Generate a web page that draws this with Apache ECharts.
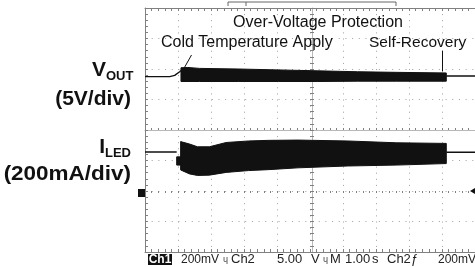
<!DOCTYPE html>
<html><head><meta charset="utf-8">
<script src="https://cdn.jsdelivr.net/npm/echarts@6/dist/echarts.min.js"></script>
<style>html,body{margin:0;padding:0;background:#fff}#c{width:475px;height:267px}</style>
</head><body><div id="c"></div>
<script>
// Horizontal: time in seconds (1.00 s/div, 10 divisions). Vertical: graticule divisions (-4..4).
const timeMin = 0, timeMax = 10, divMin = -4, divMax = 4;

// V_OUT trace (5 V/div)
const voutBefore = [[0, 1.75], [0.75, 1.75], [0.9, 1.79], [1.05, 1.91], [1.09, 1.95]];
const voutBandT   = [1.09, 1.3, 1.65, 2.84, 4.04, 5.24, 6.44, 7.63, 9.13];
const voutBandTop = [2.04, 2.05, 2.02, 2.0, 1.97, 1.94, 1.91, 1.89, 1.87];
const voutBandBot = [1.59, 1.59, 1.59, 1.59, 1.59, 1.59, 1.6, 1.6, 1.6];
const voutAfter  = [[9.13, 1.77], [10, 1.77]];

// I_LED trace (200 mA/div)
const iledBefore = [[0, -0.72], [0.96, -0.72]];
const iledBlipT   = [0.96, 1.08];
const iledBlipTop = [-0.88, -0.88];
const iledBlipBot = [-1.15, -1.15];
const iledBandT   = [1.08, 1.35, 1.59, 1.95, 2.46, 3.14, 3.74, 4.64, 6.14, 7.63, 9.13];
const iledBandTop = [-0.38, -0.46, -0.55, -0.55, -0.41, -0.36, -0.34, -0.33, -0.36, -0.42, -0.44];
const iledBandBot = [-1.31, -1.44, -1.49, -1.48, -1.39, -1.33, -1.3, -1.24, -1.18, -1.15, -1.1];
const iledAfter  = [[9.13, -0.73], [10, -0.73]];

// annotation arrows (data space)
const arrowCold = [[1.41, 2.46], [1.17, 2.0]];
const arrowRecovery = [[9.01, 2.6], [9.01, 1.92]];

const GL = 145, GT = 8, GW = 334, GH = 244;
const dotH = [1, GW / 50 - 1];   // dots every 1/5 div horizontally
const dotV = [1, GH / 40 - 1];   // dots every 1/5 div vertically
const gridC = '#a0a0a0', borderC = '#808080', ink = '#111';

function band(ts, tops, bots) {
  return {
    type: 'custom', xAxisIndex: 0, yAxisIndex: 0, silent: true, z: 5,
    data: [[ts[0], tops[0]]],
    renderItem: function (params, api) {
      const pts = [];
      for (let i = 0; i < ts.length; i++) pts.push(api.coord([ts[i], tops[i]]));
      for (let i = ts.length - 1; i >= 0; i--) pts.push(api.coord([ts[i], bots[i]]));
      return { type: 'polygon', shape: { points: pts }, style: { fill: ink, stroke: ink, lineWidth: 1 } };
    }
  };
}
function line(data) {
  return { type: 'line', xAxisIndex: 0, yAxisIndex: 0, data: data, showSymbol: false, silent: true,
    lineStyle: { color: ink, width: 1.4 }, z: 5, animation: false };
}
function xa(grid, pos, opts) {
  return Object.assign({ type: 'value', gridIndex: grid, position: pos, min: timeMin, max: timeMax, interval: 1,
    axisLabel: { show: false }, splitLine: { show: false },
    axisLine: { show: true, onZero: false, lineStyle: { color: borderC, width: 1 } },
    axisTick: { show: true, inside: true, length: 3, lineStyle: { color: borderC } },
    minorTick: { show: true, splitNumber: 5, length: 3, lineStyle: { color: borderC } } }, opts || {});
}
function ya(grid, pos, opts) {
  return Object.assign({ type: 'value', gridIndex: grid, position: pos, min: divMin, max: divMax, interval: 1,
    axisLabel: { show: false }, splitLine: { show: false },
    axisLine: { show: true, onZero: false, lineStyle: { color: borderC, width: 1 } },
    axisTick: { show: true, inside: true, length: 3, lineStyle: { color: borderC } },
    minorTick: { show: true, splitNumber: 5, length: 3, lineStyle: { color: borderC } } }, opts || {});
}

const chart = echarts.init(document.getElementById('c'), null, { renderer: 'canvas' });
const F = '"Liberation Sans", Arial, Helvetica, sans-serif';
function txt(x, y, s, size, opts) {
  opts = opts || {};
  const el = { type: 'text', x: x, y: y, z: 50, style: { text: s, font: (opts.bold ? 'bold ' : '') + size + 'px ' + F,
    fill: opts.fill || '#111', textAlign: opts.align || 'left', textVerticalAlign: 'middle' } };
  if (opts.sx) { el.scaleX = opts.sx; }
  return el;
}
const sb = '#222';

chart.setOption({
  animation: false,
  backgroundColor: '#fff',
  grid: [
    { left: GL, top: GT, width: GW, height: GH },
    { left: GL, top: GT, width: GW, height: GH / 2 },
    { left: GL, top: GT + GH / 2, width: GW, height: GH / 2 },
    { left: GL, top: GT, width: GW / 2, height: GH },
    { left: GL + GW / 2, top: GT, width: GW / 2, height: GH }
  ],
  xAxis: [
    xa(0, 'bottom', { splitLine: { show: true, lineStyle: { color: gridC, type: dotV, width: 1 } } }),
    xa(0, 'top'),
    xa(1, 'bottom', { axisLine: { show: true, onZero: false, lineStyle: { color: '#b8b8b8' } }, axisTick: { show: true, inside: true, length: 2, lineStyle: { color: borderC } }, minorTick: { show: true, splitNumber: 5, length: 2, lineStyle: { color: borderC } } }),
    xa(2, 'top', { axisLine: { show: false }, axisTick: { show: true, inside: true, length: 2, lineStyle: { color: borderC } }, minorTick: { show: true, splitNumber: 5, length: 2, lineStyle: { color: borderC } } }),
    xa(3, 'bottom', { show: false }),
    xa(4, 'bottom', { show: false })
  ],
  yAxis: [
    ya(0, 'left', { splitLine: { show: true, lineStyle: { color: gridC, type: dotH, width: 1 } } }),
    ya(1, 'left', { show: false }),
    ya(2, 'left', { show: false }),
    ya(3, 'right', { axisLine: { show: true, onZero: false, lineStyle: { color: '#b8b8b8' } }, axisTick: { show: true, inside: true, length: 2, lineStyle: { color: borderC } }, minorTick: { show: true, splitNumber: 5, length: 2, lineStyle: { color: borderC } } }),
    ya(4, 'left', { axisLine: { show: false }, axisTick: { show: true, inside: true, length: 2, lineStyle: { color: borderC } }, minorTick: { show: true, splitNumber: 5, length: 2, lineStyle: { color: borderC } } })
  ],
  series: [
    Object.assign(line(voutBefore), {
      markLine: { silent: true, symbol: ['none', 'arrow'], symbolSize: [0, 7], label: { show: false },
        lineStyle: { color: ink, width: 1, type: 'solid' },
        data: [
          [{ coord: arrowCold[0] }, { coord: arrowCold[1] }],
          [{ coord: arrowRecovery[0] }, { coord: arrowRecovery[1] }]
        ] }
    }),
    band(voutBandT, voutBandTop, voutBandBot),
    line(voutAfter),
    line(iledBefore),
    band(iledBlipT, iledBlipTop, iledBlipBot),
    band(iledBandT, iledBandTop, iledBandBot),
    line(iledAfter)
  ],
  graphic: [
    { type: 'polyline', z: 40, shape: { points: [[228, 6], [228, 2], [396, 2], [396, 6]] }, style: { stroke: '#666', lineWidth: 1, fill: null } },
    { type: 'line', z: 40, shape: { x1: 246, y1: 2, x2: 246, y2: 6 }, style: { stroke: '#666', lineWidth: 1 } },
    txt(318, 23, 'Over-Voltage Protection', 16, { align: 'center' }),
    txt(161, 43, 'Cold Temperature Apply', 16),
    txt(369, 43, 'Self-Recovery', 15.5),
    txt(106, 70, 'V', 21, { bold: true, align: 'right' }),
    txt(106, 76, 'OUT', 13, { bold: true }),
    txt(131, 99, '(5V/div)', 21, { bold: true, align: 'right' }),
    txt(105, 147, 'I', 21, { bold: true, align: 'right' }),
    txt(105, 153, 'LED', 13, { bold: true }),
    txt(131, 174, '(200mA/div)', 21, { bold: true, align: 'right', sx: 1.07 }),
    { type: 'rect', z: 40, shape: { x: 138, y: 189, width: 7, height: 8 }, style: { fill: '#111' } },
    { type: 'polygon', z: 40, shape: { points: [[470, 191], [475, 188], [475, 194]] }, style: { fill: '#111' } },
    { type: 'rect', z: 40, shape: { x: 148, y: 254, width: 24, height: 11 }, style: { fill: '#111' } },
    txt(160, 259.5, 'Ch1', 12, { bold: true, align: 'center', fill: '#fff' }),
    txt(181, 259.5, '200mV', 12, { fill: sb }),
    txt(223, 259.5, 'ɥ', 9, { fill: '#444' }),
    txt(231, 259.5, 'Ch2', 13, { fill: sb }),
    txt(277, 259.5, '5.00', 13, { fill: sb }),
    txt(311, 259.5, 'V', 13, { fill: sb }),
    txt(323, 259.5, 'ɥ', 9, { fill: '#444' }),
    txt(330, 259.5, 'M', 13, { fill: sb }),
    txt(345, 259.5, '1.00', 13, { fill: sb }),
    txt(372, 259.5, 's', 13, { fill: sb }),
    txt(387, 259.5, 'Ch2', 13, { fill: sb }),
    txt(411, 259.5, 'ƒ', 13, { fill: sb }),
    txt(438, 259.5, '200mV', 12, { fill: sb })
  ]
});
</script>
</body></html>
